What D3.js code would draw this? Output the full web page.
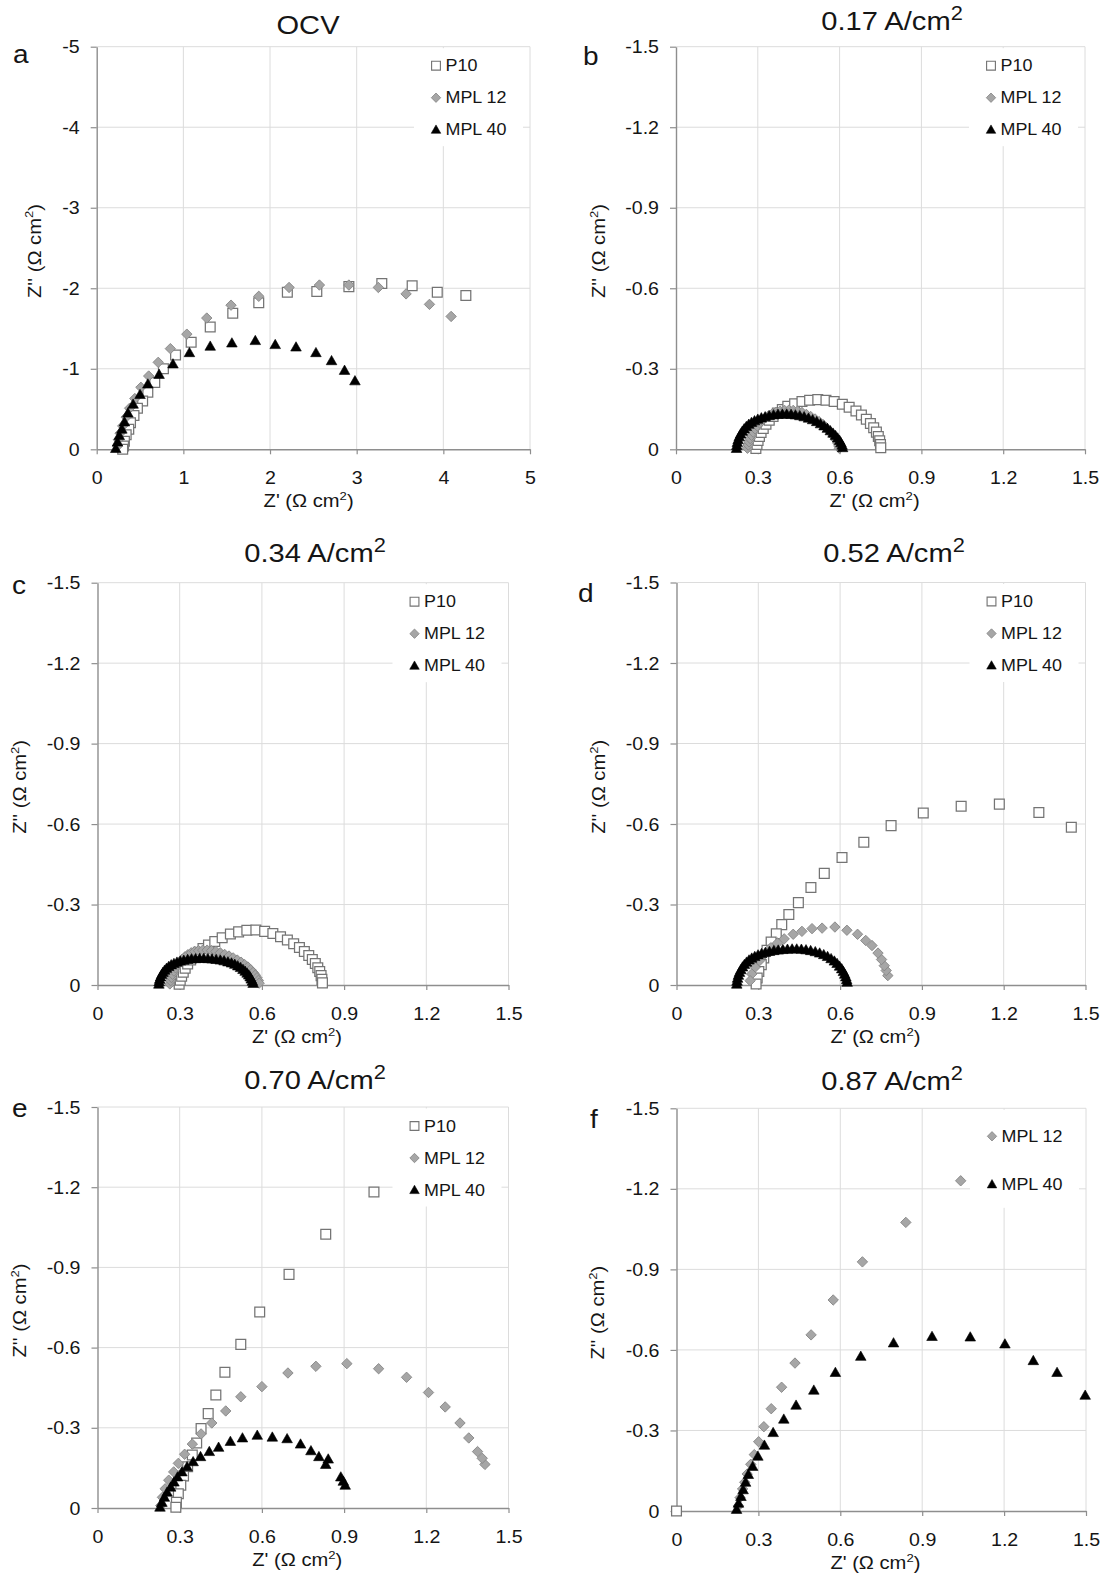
<!DOCTYPE html>
<html>
<head>
<meta charset="utf-8">
<script src="https://cdn.jsdelivr.net/npm/d3@7"></script>
<style>
  body { margin: 0; background: #fff; }
  svg { display: block; }
</style>
</head>
<body>
<svg id="chart" width="1107" height="1579"></svg>
<script>
// ---------------- DATA (Z' real part, Z'' imaginary part, Ω cm²) ----------------
const seriesNames = ["P10", "MPL 12", "MPL 40"];
const panelLetters = ["a", "b", "c", "d", "e", "f"];
const panelTitles = [
  [["OCV"]],
  [["0.17 A/cm"], ["2", 1]],
  [["0.34 A/cm"], ["2", 1]],
  [["0.52 A/cm"], ["2", 1]],
  [["0.70 A/cm"], ["2", 1]],
  [["0.87 A/cm"], ["2", 1]]
];
const xTicksOCV = [0, 1, 2, 3, 4, 5];
const yTicksOCV = [0, -1, -2, -3, -4, -5];
const xTicks = [0, 0.3, 0.6, 0.9, 1.2, 1.5];
const yTicks = [0, -0.3, -0.6, -0.9, -1.2, -1.5];

// (a) OCV
const a_P10_re = [4.26,3.93,3.64,3.29,2.91,2.54,2.20,1.87,1.57,1.31,1.09,0.91,0.77,0.67,0.59,0.53,0.47,0.43,0.39,0.37,0.34,0.32,0.31,0.30];
const a_P10_im = [-1.91,-1.95,-2.03,-2.06,-2.02,-1.96,-1.95,-1.82,-1.69,-1.52,-1.33,-1.17,-1.00,-0.83,-0.71,-0.60,-0.51,-0.42,-0.33,-0.25,-0.18,-0.10,-0.04,0.0];
const a_MPL12_re = [4.09,3.84,3.57,3.25,2.91,2.57,2.22,1.87,1.55,1.27,1.04,0.85,0.71,0.60,0.51,0.44,0.38,0.34,0.30,0.27,0.25,0.24];
const a_MPL12_im = [-1.65,-1.80,-1.93,-2.01,-2.04,-2.04,-2.01,-1.90,-1.79,-1.63,-1.43,-1.25,-1.08,-0.91,-0.77,-0.63,-0.51,-0.40,-0.29,-0.20,-0.12,-0.04];
const a_MPL40_re = [2.98,2.86,2.71,2.53,2.30,2.06,1.83,1.56,1.31,1.07,0.88,0.72,0.59,0.50,0.42,0.36,0.32,0.29,0.26,0.24,0.22];
const a_MPL40_im = [-0.85,-0.98,-1.10,-1.20,-1.27,-1.30,-1.35,-1.32,-1.28,-1.20,-1.06,-0.93,-0.81,-0.68,-0.56,-0.45,-0.34,-0.25,-0.17,-0.09,-0.01];

// (b) 0.17 A/cm2
const b_P10_re = [0.293,0.297,0.301,0.306,0.312,0.32,0.33,0.342,0.356,0.372,0.39,0.41,0.435,0.462,0.49,0.52,0.55,0.58,0.61,0.635,0.66,0.68,0.698,0.713,0.725,0.735,0.742,0.747,0.75,0.751];
const b_P10_im = [-0.003,-0.018,-0.033,-0.048,-0.063,-0.078,-0.093,-0.108,-0.122,-0.135,-0.148,-0.16,-0.17,-0.178,-0.183,-0.185,-0.183,-0.178,-0.168,-0.157,-0.143,-0.128,-0.112,-0.096,-0.08,-0.064,-0.048,-0.032,-0.018,-0.006];
const b_MPL12_re = [0.262,0.265,0.268,0.272,0.277,0.283,0.29,0.298,0.307,0.317,0.328,0.34,0.353,0.367,0.382,0.398,0.414,0.43,0.446,0.462,0.478,0.494,0.51,0.525,0.539,0.552,0.563,0.573,0.581,0.588,0.593,0.597,0.599];
const b_MPL12_im = [-0.004,-0.016,-0.028,-0.04,-0.052,-0.064,-0.076,-0.087,-0.098,-0.108,-0.117,-0.125,-0.132,-0.138,-0.142,-0.145,-0.146,-0.145,-0.142,-0.137,-0.13,-0.122,-0.113,-0.103,-0.092,-0.08,-0.068,-0.056,-0.045,-0.034,-0.023,-0.013,-0.004];
const b_MPL40_re = [0.222,0.223,0.225,0.228,0.232,0.237,0.243,0.25,0.258,0.267,0.277,0.288,0.3,0.313,0.327,0.342,0.358,0.374,0.39,0.406,0.422,0.438,0.454,0.47,0.486,0.501,0.516,0.53,0.543,0.555,0.566,0.576,0.585,0.593,0.6,0.605,0.609,0.611];
const b_MPL40_im = [-0.003,-0.014,-0.025,-0.036,-0.047,-0.057,-0.067,-0.076,-0.085,-0.093,-0.1,-0.106,-0.112,-0.117,-0.121,-0.125,-0.128,-0.13,-0.131,-0.131,-0.13,-0.128,-0.125,-0.121,-0.116,-0.11,-0.103,-0.095,-0.087,-0.078,-0.069,-0.06,-0.051,-0.042,-0.033,-0.024,-0.015,-0.006];

// (c) 0.34 A/cm2
const c_P10_re = [0.298,0.302,0.307,0.313,0.32,0.329,0.34,0.353,0.368,0.385,0.405,0.428,0.455,0.485,0.515,0.545,0.578,0.61,0.64,0.668,0.693,0.716,0.737,0.755,0.771,0.784,0.795,0.804,0.811,0.816,0.819,0.821];
const c_P10_im = [-0.003,-0.018,-0.033,-0.048,-0.063,-0.078,-0.093,-0.108,-0.122,-0.136,-0.149,-0.162,-0.176,-0.19,-0.198,-0.204,-0.205,-0.2,-0.192,-0.18,-0.168,-0.154,-0.14,-0.125,-0.11,-0.095,-0.08,-0.064,-0.05,-0.035,-0.021,-0.008];
const c_MPL12_re = [0.264,0.267,0.27,0.274,0.279,0.285,0.292,0.3,0.309,0.319,0.33,0.342,0.355,0.369,0.384,0.4,0.416,0.432,0.448,0.464,0.48,0.495,0.51,0.524,0.537,0.549,0.559,0.568,0.576,0.582,0.587,0.59];
const c_MPL12_im = [-0.004,-0.016,-0.028,-0.04,-0.052,-0.064,-0.075,-0.086,-0.096,-0.105,-0.113,-0.12,-0.125,-0.128,-0.13,-0.13,-0.128,-0.125,-0.12,-0.114,-0.108,-0.101,-0.093,-0.085,-0.076,-0.067,-0.057,-0.047,-0.037,-0.027,-0.017,-0.007];
const c_MPL40_re = [0.224,0.225,0.227,0.23,0.234,0.239,0.245,0.252,0.26,0.269,0.279,0.29,0.302,0.315,0.329,0.343,0.358,0.373,0.388,0.403,0.418,0.433,0.448,0.462,0.476,0.489,0.501,0.512,0.522,0.531,0.539,0.546,0.552,0.557,0.561,0.565,0.568];
const c_MPL40_im = [-0.003,-0.012,-0.021,-0.03,-0.039,-0.047,-0.055,-0.062,-0.069,-0.075,-0.08,-0.085,-0.089,-0.092,-0.095,-0.097,-0.098,-0.099,-0.099,-0.098,-0.097,-0.095,-0.093,-0.09,-0.086,-0.082,-0.077,-0.071,-0.065,-0.058,-0.051,-0.044,-0.037,-0.03,-0.022,-0.014,-0.006];

// (d) 0.52 A/cm2
const d_P10_re = [1.448,1.329,1.184,1.044,0.905,0.787,0.687,0.607,0.542,0.493,0.447,0.412,0.386,0.366,0.347,0.332,0.32,0.311,0.302,0.296,0.292];
const d_P10_im = [-0.588,-0.643,-0.674,-0.666,-0.641,-0.594,-0.532,-0.475,-0.416,-0.363,-0.307,-0.263,-0.225,-0.191,-0.16,-0.129,-0.101,-0.076,-0.05,-0.026,-0.004];
const d_MPL12_re = [0.775,0.769,0.762,0.752,0.739,0.717,0.694,0.664,0.625,0.581,0.534,0.497,0.46,0.428,0.395,0.37,0.346,0.324,0.305,0.288,0.276,0.27];
const d_MPL12_im = [-0.035,-0.054,-0.072,-0.095,-0.119,-0.147,-0.166,-0.189,-0.204,-0.216,-0.212,-0.21,-0.2,-0.189,-0.172,-0.156,-0.139,-0.116,-0.091,-0.066,-0.041,-0.016];
const d_MPL40_re = [0.221,0.222,0.224,0.227,0.231,0.236,0.242,0.249,0.257,0.266,0.276,0.287,0.299,0.312,0.326,0.341,0.357,0.373,0.39,0.407,0.424,0.441,0.458,0.475,0.492,0.509,0.525,0.54,0.554,0.567,0.579,0.589,0.598,0.606,0.612,0.617,0.621,0.624,0.626];
const d_MPL40_im = [-0.003,-0.014,-0.025,-0.036,-0.047,-0.057,-0.067,-0.076,-0.085,-0.093,-0.1,-0.106,-0.112,-0.117,-0.121,-0.125,-0.128,-0.13,-0.132,-0.133,-0.134,-0.134,-0.133,-0.131,-0.128,-0.124,-0.119,-0.113,-0.106,-0.098,-0.089,-0.08,-0.07,-0.06,-0.05,-0.04,-0.03,-0.02,-0.01];

// (e) 0.70 A/cm2
const e_P10_re = [1.009,0.833,0.699,0.592,0.523,0.465,0.432,0.404,0.378,0.362,0.346,0.329,0.314,0.304,0.295,0.288,0.286];
const e_P10_im = [-1.182,-1.024,-0.874,-0.733,-0.612,-0.508,-0.423,-0.353,-0.297,-0.243,-0.198,-0.154,-0.12,-0.085,-0.053,-0.021,-0.003];
const e_MPL12_re = [1.414,1.404,1.387,1.355,1.323,1.269,1.208,1.128,1.026,0.91,0.797,0.695,0.6,0.523,0.468,0.417,0.378,0.346,0.318,0.295,0.278,0.26,0.247,0.237,0.231];
const e_MPL12_im = [-0.163,-0.186,-0.211,-0.262,-0.318,-0.378,-0.432,-0.489,-0.521,-0.54,-0.53,-0.505,-0.454,-0.416,-0.363,-0.318,-0.277,-0.239,-0.201,-0.167,-0.135,-0.104,-0.072,-0.04,-0.009];
const e_MPL40_re = [0.904,0.897,0.888,0.842,0.833,0.808,0.779,0.741,0.692,0.638,0.583,0.529,0.485,0.442,0.408,0.376,0.349,0.327,0.308,0.292,0.279,0.267,0.254,0.244,0.235,0.228];
const e_MPL40_im = [-0.085,-0.1,-0.116,-0.183,-0.163,-0.192,-0.214,-0.239,-0.259,-0.265,-0.272,-0.262,-0.249,-0.227,-0.211,-0.192,-0.173,-0.154,-0.135,-0.116,-0.097,-0.078,-0.059,-0.04,-0.021,-0.003];

// (f) 0.87 A/cm2
const f_P10_re = [0];
const f_P10_im = [0];
const f_MPL12_re = [1.041,0.84,0.681,0.574,0.493,0.434,0.385,0.347,0.32,0.301,0.285,0.272,0.259,0.25,0.242,0.233,0.227];
const f_MPL12_im = [-1.23,-1.075,-0.928,-0.786,-0.656,-0.551,-0.461,-0.381,-0.314,-0.258,-0.21,-0.174,-0.138,-0.107,-0.082,-0.05,-0.019];
const f_MPL40_re = [1.497,1.394,1.307,1.203,1.076,0.936,0.795,0.675,0.582,0.503,0.438,0.393,0.354,0.322,0.298,0.279,0.263,0.253,0.244,0.236,0.227,0.22];
const f_MPL40_im = [-0.431,-0.516,-0.56,-0.622,-0.648,-0.65,-0.626,-0.576,-0.516,-0.45,-0.394,-0.342,-0.292,-0.245,-0.204,-0.166,-0.136,-0.107,-0.079,-0.054,-0.029,-0.006];

// ---------------- LAYOUT / STYLE ----------------
const SX = 1.12; // horizontal glyph stretch of the original figure
const FONT = '"Liberation Sans", Arial, Helvetica, sans-serif';
const GRID = "#dcdcdc", AXIS = "#8e8e8e", INK = "#151515";

const layout = [
  {L: 96.7, R: 530,   T: 46.7,  B: 449.3, tx: 308, ty: 34,   lx: 13,  ly: 63,   ytx: 40.5, xtx: 308.6, leg: [19, 51, 83]},
  {L: 676,  R: 1085,  T: 46.7,  B: 449.3, tx: 892, ty: 30,   lx: 583, ly: 65,   ytx: 605,  xtx: 874.6, leg: [19, 51, 83]},
  {L: 97.5, R: 508.5, T: 582.7, B: 985,   tx: 315, ty: 562,  lx: 12,  ly: 594,  ytx: 26,   xtx: 297,   leg: [19, 51, 83]},
  {L: 676.5,R: 1085.5,T: 582.5, B: 985,   tx: 894, ty: 562,  lx: 578, ly: 602,  ytx: 605,  xtx: 875.4, leg: [19, 51, 83]},
  {L: 97.5, R: 508.5, T: 1107,  B: 1508,  tx: 315, ty: 1089, lx: 12,  ly: 1117, ytx: 26,   xtx: 297.3, leg: [19, 51, 83]},
  {L: 676.5,R: 1086,  T: 1108.3,B: 1511,  tx: 892, ty: 1090, lx: 590, ly: 1128, ytx: 604,  xtx: 875.4, leg: [28, 76]}
];

const zipPts = (re, im) => re.map((v, i) => [v, im[i]]);
const panels = [
  {xt: xTicksOCV, yt: yTicksOCV, series: [zipPts(a_P10_re, a_P10_im), zipPts(a_MPL12_re, a_MPL12_im), zipPts(a_MPL40_re, a_MPL40_im)], legend: [0, 1, 2]},
  {xt: xTicks, yt: yTicks, series: [zipPts(b_P10_re, b_P10_im), zipPts(b_MPL12_re, b_MPL12_im), zipPts(b_MPL40_re, b_MPL40_im)], legend: [0, 1, 2]},
  {xt: xTicks, yt: yTicks, series: [zipPts(c_P10_re, c_P10_im), zipPts(c_MPL12_re, c_MPL12_im), zipPts(c_MPL40_re, c_MPL40_im)], legend: [0, 1, 2]},
  {xt: xTicks, yt: yTicks, series: [zipPts(d_P10_re, d_P10_im), zipPts(d_MPL12_re, d_MPL12_im), zipPts(d_MPL40_re, d_MPL40_im)], legend: [0, 1, 2]},
  {xt: xTicks, yt: yTicks, series: [zipPts(e_P10_re, e_P10_im), zipPts(e_MPL12_re, e_MPL12_im), zipPts(e_MPL40_re, e_MPL40_im)], legend: [0, 1, 2]},
  {xt: xTicks, yt: yTicks, series: [zipPts(f_P10_re, f_P10_im), zipPts(f_MPL12_re, f_MPL12_im), zipPts(f_MPL40_re, f_MPL40_im)], legend: [1, 2]}
];

const markerPath = ["M-4.9,-4.9H4.9V4.9H-4.9Z", "M0,-5.2L5.2,0L0,5.2L-5.2,0Z", "M0,-5.3L5.3,4L-5.3,4Z"];
const markerFill = ["#ffffff", "#a6a6a6", "#000000"];
const markerStroke = ["#747474", "#868686", "#000000"];
const markerSW = [1.25, 0.9, 0.6];

const fmt = d => (d === 0 ? "0" : String(+d.toFixed(1)));

const svg = d3.select("#chart").attr("font-family", FONT);

function addText(parent, x, y, parts, size, anchor, rot, supScale) {
  const ss = supScale || 0.65;
  const t = parent.append("text")
    .attr("transform", `translate(${x},${y})${rot ? ` rotate(${rot})` : ""} scale(${SX},1)`)
    .attr("text-anchor", anchor)
    .attr("font-size", size)
    .attr("fill", INK);
  let raised = false;
  parts.forEach(([s, sup]) => {
    const ts = t.append("tspan").text(s);
    if (sup) {
      ts.attr("font-size", size * ss);
      if (!raised) { ts.attr("dy", -0.4 * size); raised = true; }
    } else if (raised) {
      ts.attr("dy", 0.4 * size); raised = false;
    }
  });
  return t;
}

panels.forEach((pd, i) => {
  const lay = layout[i];
  const g = svg.append("g");
  const x = d3.scaleLinear().domain([pd.xt[0], pd.xt[pd.xt.length - 1]]).range([lay.L, lay.R]);
  const y = d3.scaleLinear().domain([pd.yt[0], pd.yt[pd.yt.length - 1]]).range([lay.B, lay.T]);

  // gridlines
  g.append("g").selectAll("line").data(pd.xt.filter(v => v !== 0)).join("line")
    .attr("x1", d => x(d)).attr("x2", d => x(d)).attr("y1", lay.T).attr("y2", lay.B)
    .attr("stroke", GRID).attr("stroke-width", 1);
  g.append("g").selectAll("line").data(pd.yt.filter(v => v !== 0)).join("line")
    .attr("y1", d => y(d)).attr("y2", d => y(d)).attr("x1", lay.L).attr("x2", lay.R)
    .attr("stroke", GRID).attr("stroke-width", 1);

  // legend background box (hides gridlines behind legend)
  g.append("rect").attr("x", lay.R - 116).attr("y", lay.T + 1.5).attr("width", 109).attr("height", 98).attr("fill", "#fff");

  // axes
  const xa = g.append("g").attr("transform", `translate(0,${lay.B})`)
    .call(d3.axisBottom(x).tickValues(pd.xt).tickFormat(fmt).tickSizeInner(5).tickSizeOuter(0));
  const ya = g.append("g").attr("transform", `translate(${lay.L},0)`)
    .call(d3.axisLeft(y).tickValues(pd.yt).tickFormat(fmt).tickSizeInner(6).tickSizeOuter(0));
  [xa, ya].forEach(a => {
    a.attr("font-family", FONT).attr("font-size", 17.5).attr("color", AXIS);
    a.select(".domain").attr("stroke-width", 1.4);
    a.selectAll(".tick line").attr("stroke-width", 1.2);
    a.selectAll(".tick text").attr("fill", INK).attr("transform", `scale(${SX},1)`);
  });
  xa.selectAll(".tick text").attr("y", 35).attr("dy", null);
  ya.selectAll(".tick text").attr("x", -17 / SX).attr("dy", "0.35em");

  // data markers
  pd.series.forEach((pts, k) => {
    g.append("g").selectAll("path").data(pts).join("path")
      .attr("d", markerPath[k])
      .attr("transform", d => `translate(${x(d[0])},${y(d[1])})`)
      .attr("fill", markerFill[k]).attr("stroke", markerStroke[k]).attr("stroke-width", markerSW[k]);
  });

  // legend
  pd.legend.forEach((k, r) => {
    const cy = lay.T + lay.leg[r];
    g.append("path").attr("d", markerPath[k]).attr("transform", `translate(${lay.R - 94},${cy}) scale(0.9)`)
      .attr("fill", markerFill[k]).attr("stroke", markerStroke[k]).attr("stroke-width", markerSW[k]);
    addText(g, lay.R - 84.5, cy + 5.7, [[seriesNames[k]]], 16, "start");
  });

  // titles and labels
  addText(g, lay.tx, lay.ty, panelTitles[i], 26, "middle", 0, 0.75);
  addText(g, lay.lx, lay.ly, [[panelLetters[i]]], 25, "start");
  addText(g, lay.xtx, lay.B + 58, [["Z' (Ω cm"], ["2", 1], [")"]], 18, "middle");
  addText(g, lay.ytx, (lay.T + lay.B) / 2 + 3, [["Z'' (Ω cm"], ["2", 1], [")"]], 18, "middle", -90);
});
</script>
</body>
</html>
